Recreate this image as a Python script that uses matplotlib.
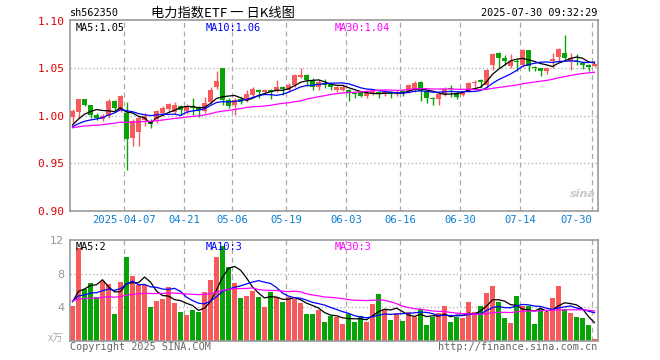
import numpy as np
import pandas as pd
import matplotlib
matplotlib.use('Agg')
import matplotlib.pyplot as plt

plt.rcParams['font.family'] = ['DejaVu Sans Mono', 'Noto Sans CJK SC']

# trading days shown (2025-03-24 .. 2025-07-30, exchange holidays removed)
holidays = ['2025-04-04', '2025-05-01', '2025-05-02', '2025-05-05', '2025-06-02']
tick_dates = ['2025-04-07', '2025-04-21', '2025-05-06', '2025-05-19', '2025-06-03',
              '2025-06-16', '2025-06-30', '2025-07-14', '2025-07-30']
tick_labels = ['2025-04-07', '04-21', '05-06', '05-19', '06-03',
               '06-16', '06-30', '07-14', '07-30']

opens = [0.999, 1.004, 1.018, 1.012, 1.001, 0.997, 1.000, 1.016, 1.006, 1.003,
         0.977, 0.983, 0.996, 0.995, 0.997, 1.003, 1.007, 1.004, 1.011, 1.005,
         1.010, 1.009, 1.005, 1.015, 1.031, 1.050, 1.017, 1.012, 1.018, 1.017,
         1.022, 1.027, 1.025, 1.027, 1.027, 1.030, 1.027, 1.033, 1.041, 1.043,
         1.038, 1.030, 1.035, 1.034, 1.027, 1.027, 1.027, 1.024, 1.025, 1.021,
         1.024, 1.025, 1.023, 1.025, 1.023, 1.026, 1.026, 1.027, 1.036, 1.026,
         1.019, 1.018, 1.023, 1.029, 1.024, 1.022, 1.026, 1.0345, 1.038, 1.033,
         1.054, 1.066, 1.061, 1.053, 1.058, 1.054, 1.069, 1.051, 1.050, 1.047,
         1.058, 1.062, 1.066, 1.058, 1.058, 1.056, 1.053, 1.053]
highs = [1.007, 1.018, 1.018, 1.012, 1.003, 1.002, 1.018, 1.017, 1.022, 1.015,
         0.997, 1.000, 1.003, 0.997, 1.006, 1.010, 1.014, 1.015, 1.012, 1.013,
         1.019, 1.011, 1.020, 1.030, 1.047, 1.050, 1.019, 1.019, 1.020, 1.027,
         1.030, 1.028, 1.028, 1.028, 1.038, 1.032, 1.035, 1.044, 1.050, 1.044,
         1.040, 1.038, 1.039, 1.035, 1.032, 1.034, 1.028, 1.025, 1.026, 1.026,
         1.027, 1.026, 1.027, 1.026, 1.027, 1.027, 1.034, 1.037, 1.037, 1.027,
         1.020, 1.024, 1.030, 1.033, 1.026, 1.026, 1.036, 1.038, 1.039, 1.049,
         1.066, 1.067, 1.064, 1.065, 1.060, 1.070, 1.069, 1.053, 1.051, 1.051,
         1.066, 1.072, 1.085, 1.066, 1.065, 1.057, 1.055, 1.055]
lows = [0.993, 0.998, 1.010, 0.998, 0.996, 0.995, 0.998, 1.006, 1.004, 0.943,
        0.968, 0.968, 0.989, 0.987, 0.993, 1.000, 1.004, 1.002, 1.001, 1.002,
        1.001, 0.999, 1.003, 1.013, 1.028, 1.012, 1.008, 1.001, 1.013, 1.015,
        1.020, 1.019, 1.023, 1.018, 1.025, 1.022, 1.025, 1.031, 1.040, 1.032,
        1.027, 1.027, 1.029, 1.027, 1.025, 1.026, 1.016, 1.019, 1.020, 1.019,
        1.022, 1.019, 1.021, 1.019, 1.021, 1.021, 1.024, 1.025, 1.016, 1.014,
        1.012, 1.012, 1.021, 1.020, 1.018, 1.021, 1.025, 1.030, 1.029, 1.029,
        1.048, 1.050, 1.054, 1.051, 1.047, 1.052, 1.047, 1.047, 1.042, 1.044,
        1.050, 1.058, 1.058, 1.048, 1.054, 1.049, 1.047, 1.052]
closes = [1.005, 1.018, 1.012, 1.001, 0.998, 1.000, 1.016, 1.008, 1.021, 0.976,
          0.995, 0.998, 1.000, 0.992, 1.005, 1.008, 1.013, 1.012, 1.006, 1.011,
          1.008, 1.006, 1.014, 1.027, 1.037, 1.017, 1.010, 1.017, 1.015, 1.023,
          1.028, 1.025, 1.027, 1.025, 1.030, 1.028, 1.033, 1.043, 1.043, 1.038,
          1.030, 1.036, 1.033, 1.031, 1.031, 1.030, 1.024, 1.023, 1.021, 1.0245,
          1.026, 1.023, 1.025, 1.023, 1.025, 1.024, 1.033, 1.035, 1.026, 1.019,
          1.018, 1.023, 1.028, 1.028, 1.020, 1.025, 1.035, 1.036, 1.0355, 1.048,
          1.065, 1.061, 1.058, 1.058, 1.057, 1.069, 1.053, 1.050, 1.047, 1.050,
          1.060, 1.071, 1.061, 1.061, 1.057, 1.054, 1.052, 1.054]
# volume, 10k lots
volumes = [4.1, 11.0, 6.2, 6.9, 5.2, 7.1, 6.8, 3.2, 7.0, 10.0,
           7.7, 6.7, 6.6, 4.0, 4.7, 5.0, 6.4, 4.5, 3.4, 3.1,
           3.7, 3.5, 5.8, 7.3, 10.0, 11.3, 8.8, 6.9, 5.1, 5.4,
           5.9, 5.2, 4.0, 5.8, 5.2, 4.6, 5.2, 5.0, 4.5, 3.2,
           3.2, 3.7, 2.3, 3.0, 2.8, 2.0, 3.2, 2.2, 3.0, 2.2,
           4.4, 5.6, 3.7, 2.5, 3.3, 2.4, 3.5, 2.9, 3.8, 1.9,
           2.9, 3.3, 4.1, 2.2, 2.9, 2.7, 4.6, 3.5, 4.2, 5.7,
           6.5, 4.6, 2.7, 2.1, 5.3, 4.2, 4.2, 2.0, 3.8, 3.5,
           5.1, 6.5, 3.8, 3.3, 2.8, 2.7, 1.9, 0.2]
# rough level of the days before the window (seed for the moving averages)
pre_close = 0.987
pre_volume = 4.8

RED = '#f65a5a'
GREEN = '#07a307'
GRID = '#aaaaaa'

days = pd.bdate_range('2025-03-24', '2025-07-30')
days = days[~days.isin(pd.to_datetime(holidays))]
tick_idx = days.get_indexer(pd.to_datetime(tick_dates))

o = np.array(opens); h = np.array(highs); l = np.array(lows); c = np.array(closes)
v = np.array(volumes)
x = np.arange(len(c))
bw = 5 / 6
xc = x + bw / 2
cols = np.where(c >= o, RED, GREEN)


def mavg(vals, n, seed):
    s = pd.Series(np.r_[np.full(29, seed), vals])
    return s.rolling(n).mean().to_numpy()[29:]


fig = plt.figure(figsize=(6.6, 3.6), dpi=100)
ax = fig.add_axes([70 / 660, 1 - 211 / 360, 528 / 660, 191 / 360])
axv = fig.add_axes([70 / 660, 1 - 341 / 360, 528 / 660, 101 / 360])

for a in (ax, axv):
    a.set_xlim(0, len(c))
    for s in a.spines.values():
        s.set_color('#999999')
        s.set_linewidth(1.2)
    for t in tick_idx:
        a.axvline(t, color=GRID, lw=0.9, ls=(0, (4, 3)), zorder=0)

# price panel
ax.set_ylim(0.90, 1.101)
for yv in (0.95, 1.00, 1.05):
    ax.axhline(yv, color=GRID, lw=0.9, ls=(0, (1, 2)), zorder=0)
ax.bar(x, np.maximum(np.abs(c - o), 0.0012), bottom=np.minimum(o, c), width=bw,
       align='edge', color=cols, linewidth=0, zorder=2)
ax.vlines(xc, l, h, colors=cols, lw=1, zorder=2)
ax.plot(xc, mavg(c, 5, pre_close), color='black', lw=0.9, zorder=3)
ax.plot(xc, mavg(c, 10, pre_close), color='#0000ff', lw=0.9, zorder=3)
ax.plot(xc, mavg(c, 30, pre_close), color='#ff00ff', lw=0.9, zorder=3)
ax.set_yticks([0.90, 0.95, 1.00, 1.05, 1.10])
ax.set_yticklabels(['0.90', '0.95', '1.00', '1.05', '1.10'])
ax.tick_params(axis='y', length=0, pad=4, labelsize=8, labelcolor='#e00000')
ax.set_xticks(tick_idx)
ax.set_xticklabels(tick_labels)
ax.tick_params(axis='x', length=0, pad=3, labelsize=7.6, labelcolor='#0a7fd1')
ax.get_xticklabels()[-1].set_horizontalalignment('right')
ax.text(0.01, 0.985, 'MA5:1.05', transform=ax.transAxes, va='top', fontsize=7.4, color='black')
ax.text(0.256, 0.985, 'MA10:1.06', transform=ax.transAxes, va='top', fontsize=7.4, color='#0000ff')
ax.text(0.502, 0.985, 'MA30:1.04', transform=ax.transAxes, va='top', fontsize=7.4, color='#ff00ff')
ax.text(0.995, 0.09, 'sina', transform=ax.transAxes, ha='right', va='center', fontsize=8,
        style='italic', fontweight='bold', color='#c8c8c8', family='DejaVu Sans')

# volume panel
axv.set_ylim(0, 12)
for yv in (4, 8):
    axv.axhline(yv, color=GRID, lw=0.9, ls=(0, (1, 2)), zorder=0)
axv.bar(x, v, width=bw, align='edge', color=cols, linewidth=0, zorder=2)
axv.plot(xc, mavg(v, 5, pre_volume), color='black', lw=0.9, zorder=3)
axv.plot(xc, mavg(v, 10, pre_volume), color='#0000ff', lw=0.9, zorder=3)
axv.plot(xc, mavg(v, 30, pre_volume), color='#ff00ff', lw=0.9, zorder=3)
axv.set_yticks([4, 8, 12])
axv.set_yticklabels(['4', '8', '12'])
axv.tick_params(axis='y', length=0, pad=4, labelsize=8, labelcolor='#999999')
for t in axv.get_yticklabels():
    t.set_family('DejaVu Sans')
axv.set_xticks([])
axv.text(0.01, 0.98, 'MA5:2', transform=axv.transAxes, va='top', fontsize=7.4, color='black')
axv.text(0.256, 0.98, 'MA10:3', transform=axv.transAxes, va='top', fontsize=7.4, color='#0000ff')
axv.text(0.502, 0.98, 'MA30:3', transform=axv.transAxes, va='top', fontsize=7.4, color='#ff00ff')

# header / footer
fig.text(70 / 660, 1 - 13 / 360, 'sh562350', va='center', fontsize=7.3, color='black')
fig.text(223 / 660, 1 - 13 / 360, '电力指数ETF 一 日K线图', ha='center', va='center', fontsize=9.5,
         color='black', family=['Noto Sans CJK SC', 'DejaVu Sans'])
fig.text(597 / 660, 1 - 13 / 360, '2025-07-30 09:32:29', ha='right', va='center', fontsize=7.3,
         color='black')
fig.text(70 / 660, 1 - 347 / 360, 'Copyright 2025 SINA.COM', va='center', fontsize=7.3, color='#666666')
fig.text(597 / 660, 1 - 347 / 360, 'http://finance.sina.com.cn', ha='right', va='center',
         fontsize=7.3, color='#666666')
fig.text(63 / 660, 1 - 339 / 360, 'x万', ha='right', va='center', fontsize=7.5, color='#aaaaaa',
         family=['Noto Sans CJK SC', 'DejaVu Sans'])

fig.savefig('out.png', dpi=100)
